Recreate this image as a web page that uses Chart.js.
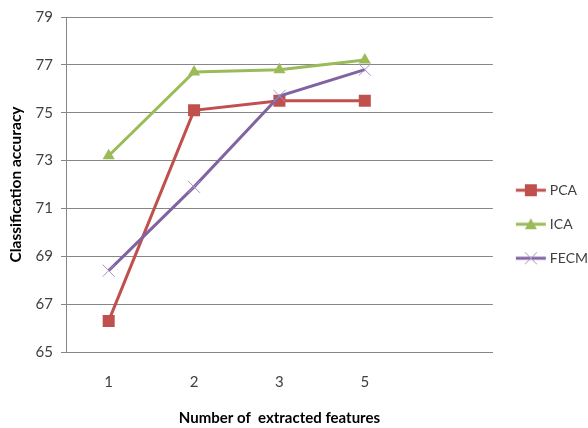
<!DOCTYPE html>
<html>
<head>
<meta charset="utf-8">
<title>Classification accuracy</title>
<script src="https://cdn.jsdelivr.net/npm/chart.js@4.4.1/dist/chart.umd.min.js"></script>
<style>
  html, body { margin: 0; padding: 0; background: #fff; }
  #wrap { width: 588px; height: 428px; }
</style>
</head>
<body>
<div id="wrap"><canvas id="chart" width="588" height="428"></canvas></div>
<script>
// Chart data
const featureCounts = ['1', '2', '3', '5', ''];
const pcaValues = [66.3, 75.1, 75.5, 75.5];
const icaValues = [73.2, 76.7, 76.8, 77.2];
const fecmValues = [68.4, 71.9, 75.7, 76.8];
const yTicks = [65, 67, 69, 71, 73, 75, 77, 79];

const FONT = "Lato, 'Open Sans', sans-serif";
const GRID = '#868686';

// Small line+marker image for each legend entry (Excel style)
// canvas is wider than the legend box on purpose, line sits a bit to the right
function legendIcon(color, markerColor, style) {
  const c = document.createElement('canvas');
  c.width = 44;
  c.height = 14;
  const g = c.getContext('2d');
  g.strokeStyle = color;
  g.lineWidth = 3;
  g.beginPath();
  g.moveTo(10, 7);
  g.lineTo(40, 7);
  g.stroke();
  g.fillStyle = markerColor;
  g.strokeStyle = markerColor;
  const cx = 25;
  if (style === 'rect') {
    g.fillRect(cx - 6, 1, 12, 12);
  } else if (style === 'triangle') {
    g.beginPath();
    g.moveTo(cx, 1);
    g.lineTo(cx + 6, 12);
    g.lineTo(cx - 6, 12);
    g.closePath();
    g.fill();
  } else {
    g.lineWidth = 1;
    g.beginPath();
    g.moveTo(cx - 6, 1); g.lineTo(cx + 6, 13);
    g.moveTo(cx + 6, 1); g.lineTo(cx - 6, 13);
    g.stroke();
  }
  return c;
}

const icons = [
  legendIcon('#C0504D', '#C0504D', 'rect'),
  legendIcon('#9BBB59', '#9BBB59', 'triangle'),
  legendIcon('#8064A2', '#A393C6', 'cross')
];

const ctx = document.getElementById('chart');
new Chart(ctx, {
  type: 'line',
  data: {
    labels: featureCounts,
    datasets: [{
      label: 'PCA',
      data: pcaValues,
      borderColor: '#C0504D',
      backgroundColor: '#C0504D',
      borderWidth: 3,
      pointStyle: 'rect',
      pointRadius: 8.5,
      pointBorderWidth: 0,
      tension: 0,
      order: 3
    }, {
      label: 'ICA',
      data: icaValues,
      borderColor: '#9BBB59',
      backgroundColor: '#9BBB59',
      borderWidth: 3,
      pointStyle: 'triangle',
      pointRadius: 7,
      pointBorderWidth: 0,
      tension: 0,
      order: 2
    }, {
      label: 'FECM',
      data: fecmValues,
      borderColor: '#8064A2',
      backgroundColor: '#A393C6',
      pointBorderColor: '#A393C6',
      borderWidth: 3,
      pointStyle: 'crossRot',
      pointRadius: 8.5,
      pointBorderWidth: 1,
      tension: 0,
      order: 1
    }]
  },
  options: {
    responsive: false,
    animation: false,
    devicePixelRatio: 1,
    layout: {
      padding: { left: 4, top: 7, right: -10, bottom: 1 }
    },
    plugins: {
      tooltip: { enabled: false },
      legend: {
        position: 'right',
        // empty title only nudges the entries down a little
        title: {
          display: true,
          text: ' ',
          font: { family: FONT, size: 2 },
          padding: 6
        },
        labels: {
          font: { family: FONT, size: 14 },
          color: '#404040',
          usePointStyle: true,
          pointStyleWidth: 30,
          boxHeight: 14,
          padding: 20,
          generateLabels: (chart) => chart.data.datasets.map((ds, i) => ({
            text: ds.label,
            pointStyle: icons[i],
            fillStyle: ds.borderColor,
            strokeStyle: ds.borderColor,
            lineWidth: 0,
            hidden: false,
            datasetIndex: i,
            fontColor: '#404040'
          }))
        }
      }
    },
    scales: {
      x: {
        offset: true,
        afterFit: (scale) => { scale.height = 75; },
        grid: { display: false, drawTicks: false, offset: true },
        border: { display: true, color: GRID, width: 1 },
        ticks: {
          font: { family: FONT, size: 15 },
          color: '#404040',
          padding: 21,
          maxRotation: 0
        },
        title: {
          display: true,
          text: 'Number of  extracted features',
          font: { family: FONT, size: 15, weight: 'bold' },
          color: '#000',
          padding: { top: 14, bottom: 0 }
        }
      },
      y: {
        min: 65,
        max: 79,
        afterBuildTicks: (scale) => {
          scale.ticks = yTicks.map(v => ({ value: v }));
        },
        afterFit: (scale) => { scale.width = 62; },
        grid: { color: GRID, lineWidth: 1, tickLength: 5 },
        border: { display: true, color: GRID, width: 1 },
        ticks: {
          font: { family: FONT, size: 15 },
          color: '#404040',
          padding: 8
        },
        title: {
          display: true,
          text: 'Classification accuracy',
          font: { family: FONT, size: 15.5, weight: 'bold' },
          color: '#000',
          padding: { top: 3, bottom: 6 }
        }
      }
    }
  }
});
</script>
</body>
</html>
